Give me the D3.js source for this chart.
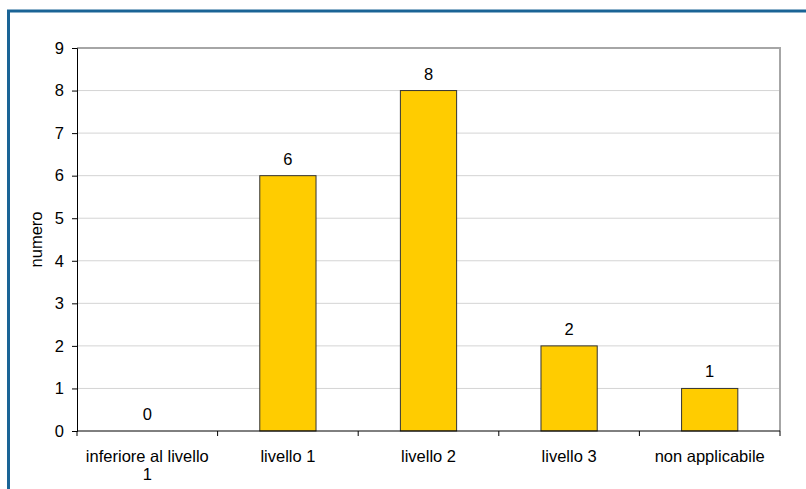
<!DOCTYPE html>
<html>
<head>
<meta charset="utf-8">
<script src="https://cdn.jsdelivr.net/npm/d3@7"></script>
<style>
  body { margin: 0; background: #fff; }
  svg { display: block; font-family: Arial, "Liberation Sans", sans-serif; }
</style>
</head>
<body>
<svg id="chart" width="806" height="489"></svg>
<script>
const categories = ['inferiore al livello 1', 'livello 1', 'livello 2', 'livello 3', 'non applicabile']
const values = [0, 6, 8, 2, 1]
const yTicks = [0, 1, 2, 3, 4, 5, 6, 7, 8, 9]

const fs = 16.5
const svg = d3.select('#chart')
const margin = { top: 48, right: 26, bottom: 58, left: 77 }
const width = 806 - margin.left - margin.right
const height = 489 - margin.top - margin.bottom

// frame (only top + left visible, picture is cropped)
svg.append('rect')
  .attr('x', 8.5).attr('y', 11)
  .attr('width', 820).attr('height', 520)
  .attr('fill', 'none')
  .attr('stroke', '#1a6496')
  .attr('stroke-width', 3)

const g = svg.append('g').attr('transform', `translate(${margin.left},${margin.top})`)

const x = d3.scaleBand().domain(categories).range([0, width]).paddingInner(0.6).paddingOuter(0.3)
const y = d3.scaleLinear().domain([0, 9]).range([height, 0])
const step = x.step()

// gridlines
g.selectAll('.grid')
  .data(yTicks.filter(d => d > 0 && d < 9))
  .enter()
  .append('line')
  .attr('x1', 0).attr('x2', width)
  .attr('y1', d => y(d)).attr('y2', d => y(d))
  .attr('stroke', '#d4d4d4')
  .attr('stroke-width', 1)

// plot border top/right
g.append('path')
  .attr('d', `M0,${y(9)}H${width}V${height}`)
  .attr('fill', 'none')
  .attr('stroke', '#a6a6a6')
  .attr('stroke-width', 2)

// bars
g.selectAll('.bar')
  .data(values)
  .enter()
  .append('rect')
  .attr('x', (d, i) => x(categories[i]))
  .attr('y', d => y(d))
  .attr('width', x.bandwidth())
  .attr('height', d => height - y(d))
  .attr('fill', d => d > 0 ? '#ffcc00' : 'none')
  .attr('stroke', d => d > 0 ? '#333' : 'none')
  .attr('stroke-width', 1)

// value labels
g.selectAll('.val')
  .data(values)
  .enter()
  .append('text')
  .attr('x', (d, i) => x(categories[i]) + x.bandwidth() / 2)
  .attr('y', d => y(d) - 11)
  .attr('text-anchor', 'middle')
  .attr('font-size', fs)
  .attr('fill', '#000')
  .text(d => d)

// y axis
const yAxis = g.append('g')
  .call(d3.axisLeft(y).tickValues(yTicks).tickSize(5).tickPadding(8))
yAxis.select('.domain').attr('stroke', '#000')
yAxis.selectAll('text').attr('font-size', fs).attr('fill', '#000').attr('font-family', 'Arial, "Liberation Sans", sans-serif')

// x axis: ticks at category boundaries
const xAxisG = g.append('g').attr('transform', `translate(0,${height})`)
xAxisG.append('line')
  .attr('x1', 0).attr('x2', width)
  .attr('stroke', '#000')
xAxisG.selectAll('.tick')
  .data(d3.range(categories.length + 1))
  .enter()
  .append('line')
  .attr('x1', i => i * step).attr('x2', i => i * step)
  .attr('y1', 0).attr('y2', 5)
  .attr('stroke', '#000')

const labelLines = [['inferiore al livello', '1'], ['livello 1'], ['livello 2'], ['livello 3'], ['non applicabile']]
const xl = xAxisG.selectAll('.xl')
  .data(labelLines)
  .enter()
  .append('text')
  .attr('text-anchor', 'middle')
  .attr('font-size', fs)
  .attr('fill', '#000')
  .attr('transform', (d, i) => `translate(${x(categories[i]) + x.bandwidth() / 2},0)`)
xl.selectAll('tspan')
  .data(d => d)
  .enter()
  .append('tspan')
  .attr('x', 0)
  .attr('y', (d, i) => 31 + i * 17.5)
  .text(d => d)

// y title
svg.append('text')
  .attr('transform', `translate(42,${margin.top + height / 2}) rotate(-90)`)
  .attr('text-anchor', 'middle')
  .attr('font-size', fs)
  .attr('fill', '#000')
  .text('numero')
</script>
</body>
</html>
